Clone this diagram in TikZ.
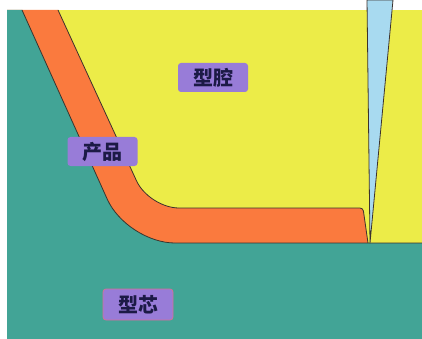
\documentclass[tikz,border=0pt]{standalone}
\usepackage{fontspec}
\newfontfamily\cjk{Noto Sans CJK SC}
\definecolor{coreteal}{RGB}{66,164,150}
\definecolor{cavyellow}{RGB}{236,236,72}
\definecolor{partorange}{RGB}{250,122,62}
\definecolor{gateblue}{RGB}{168,218,240}
\definecolor{tagpurple}{RGB}{152,124,216}
\definecolor{tagtext}{RGB}{28,26,70}
\definecolor{edge}{RGB}{60,50,45}
\tikzset{
  outline/.style={draw=edge, line width=0.8pt, line join=round},
  tag/.style={fill=tagpurple, rounded corners=3pt, text=tagtext,
    minimum width=70pt, minimum height=29pt, inner sep=0pt,
    font=\cjk\bfseries\fontsize{20}{20}\selectfont},
}
\begin{document}
\begin{tikzpicture}[x=1pt,y=-1pt]
  \useasboundingbox (0,0) rectangle (422,339);
  \fill[white] (0,0) rectangle (422,339);
  % cavity block
  \fill[cavyellow] (7,10) rectangle (422,243);
  % moulded part wall
  \fill[partorange] (7,10) -- (22,10)
      [rounded corners=48pt] -- (127,243) [sharp corners] -- (368,243)
      [rounded corners=3pt] -- (363,208) [rounded corners=30pt] -- (149,208)
      [sharp corners] -- (58,10) -- cycle;
  % core block, wrapping the part from below
  \fill[coreteal] (7,10) -- (22,10) [rounded corners=48pt] -- (127,243)
      [sharp corners] -- (422,243) -- (422,339) -- (7,339) -- cycle;
  \draw[outline] (22,10) [rounded corners=48pt] -- (127,243)
      [sharp corners] -- (422,243);
  \draw[outline] (58,10) [rounded corners=30pt] -- (149,208)
      [rounded corners=3pt] -- (363,208) [sharp corners] -- (368,243);
  % gate wedge
  \filldraw[fill=gateblue, draw=edge, line width=0.8pt, line join=round]
      (367,0) -- (393,0) -- (370,243) -- cycle;
  % labels
  \node[tag] (cavity) at (213,77.5) {型腔};
  \node[tag] (part) at (102.5,151.5) {产品};
  \node[tag, draw={rgb,255:red,214;green,112;blue,150}, line width=0.8pt,
        minimum height=31pt] (core) at (138,304.5) {型芯};
\end{tikzpicture}
\end{document}
